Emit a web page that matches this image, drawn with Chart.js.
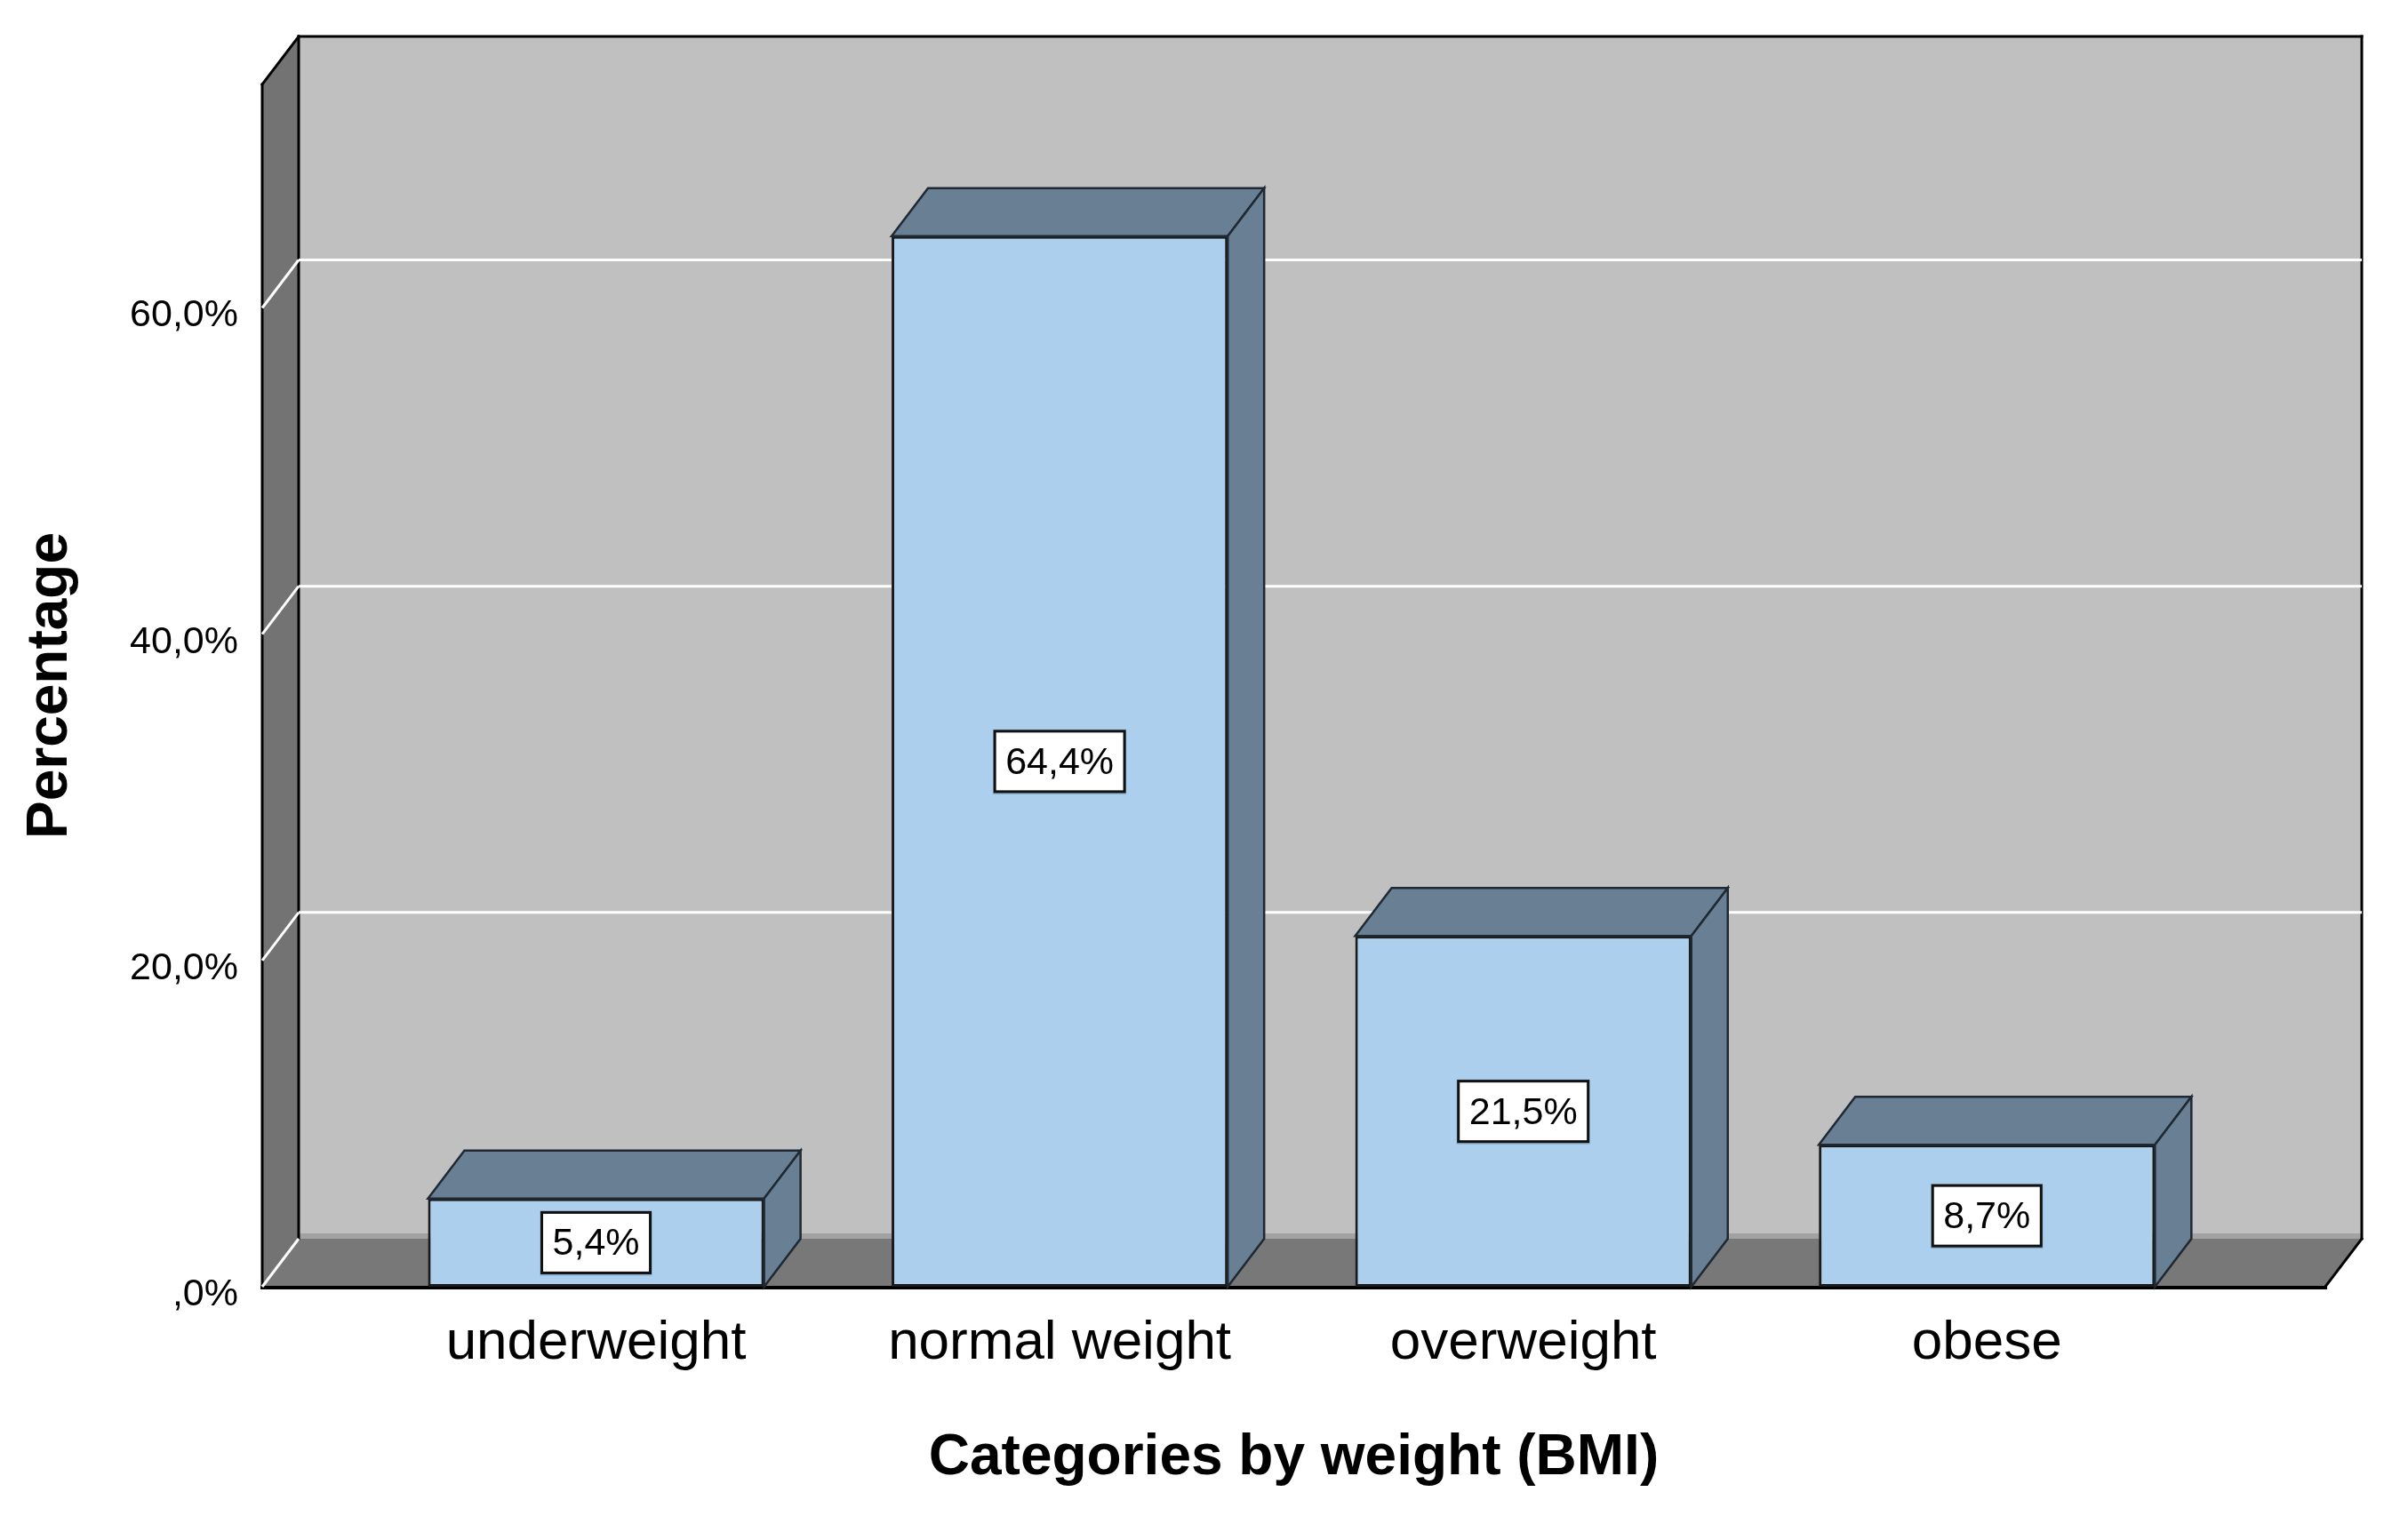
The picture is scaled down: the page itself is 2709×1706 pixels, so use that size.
<!DOCTYPE html>
<html><head><meta charset="utf-8">
<script src="https://cdn.jsdelivr.net/npm/chart.js@4.4.1/dist/chart.umd.min.js"></script>
<style>html,body{margin:0;padding:0;background:#fff;}canvas{display:block;}</style>
</head><body>
<canvas id="c" width="2709" height="1706"></canvas>
<script>
const categories = ['underweight', 'normal weight', 'overweight', 'obese'];
const percentages = [5.4, 64.4, 21.5, 8.7];
const yTickValues = [0, 20, 40, 60];
const yMax = 73.7;
const xTitle = 'Categories by weight (BMI)';
const yTitle = 'Percentage';

const DX = 41, DY = -54;
const FONT = '"Liberation Sans", Arial, sans-serif';

function fmtPct(v) {
  const s = Number(v).toFixed(1).replace('.', ',');
  return (s.startsWith('0,') ? s.slice(1) : s) + '%';
}
function poly(ctx, pts, fill, stroke, lw) {
  ctx.beginPath();
  pts.forEach((p, i) => i ? ctx.lineTo(p[0], p[1]) : ctx.moveTo(p[0], p[1]));
  ctx.closePath();
  if (fill) { ctx.fillStyle = fill; ctx.fill(); }
  if (stroke) { ctx.strokeStyle = stroke; ctx.lineWidth = lw || 2; ctx.stroke(); }
}
function seg(ctx, x1, y1, x2, y2) {
  ctx.beginPath(); ctx.moveTo(x1, y1); ctx.lineTo(x2, y2); ctx.stroke();
}

const box3d = {
  id: 'box3d',
  beforeDatasetsDraw(chart) {
    const {ctx, chartArea: a, scales: {y}} = chart;
    const L = a.left, R = a.right, T = a.top, B = a.bottom;
    ctx.save();
    ctx.fillStyle = '#c0c0c0';
    ctx.fillRect(L + DX, T + DY, R - L, B - T);
    ctx.fillStyle = '#a2a2a2';
    ctx.fillRect(L + DX, B + DY - 6, R - L, 6);
    poly(ctx, [[L, B], [L + DX, B + DY], [R + DX, B + DY], [R, B]], '#787878');
    poly(ctx, [[L, T], [L + DX, T + DY], [L + DX, B + DY], [L, B]], '#737373');
    ctx.strokeStyle = '#000';
    ctx.lineWidth = 3;
    ctx.lineCap = 'square';
    seg(ctx, L + DX, T + DY, R + DX, T + DY);
    seg(ctx, R + DX, T + DY, R + DX, B + DY);
    seg(ctx, L, T, L, B);
    seg(ctx, L + DX, T + DY, L + DX, B + DY);
    seg(ctx, L, T, L + DX, T + DY);
    seg(ctx, R, B, R + DX, B + DY);
    ctx.lineWidth = 4;
    seg(ctx, L, B + 1, R, B + 1);
    ctx.lineCap = 'butt';
    ctx.strokeStyle = '#ffffff';
    ctx.lineWidth = 3;
    yTickValues.forEach(v => {
      const py = y.getPixelForValue(v);
      if (v > 0) seg(ctx, L + DX, py + DY, R + DX, py + DY);
      seg(ctx, L, py, L + DX, py + DY);
    });
    ctx.restore();
  },
  afterDatasetsDraw(chart) {
    const {ctx} = chart;
    const meta = chart.getDatasetMeta(0);
    ctx.save();
    ctx.lineJoin = 'miter';
    meta.data.forEach((bar, i) => {
      const {x, y, base, width} = bar.getProps(['x', 'y', 'base', 'width'], true);
      const l = x - width / 2, r = x + width / 2;
      poly(ctx, [[l, y], [l + DX, y + DY], [r + DX, y + DY], [r, y]], '#687f94', '#1f2933', 2.5);
      poly(ctx, [[r, y], [r + DX, y + DY], [r + DX, base + DY], [r, base]], '#687f94', '#1f2933', 2.5);
      const txt = fmtPct(chart.data.datasets[0].data[i].y);
      ctx.font = '43px ' + FONT;
      const tw = ctx.measureText(txt).width;
      const bw = tw + 24, bh = 68;
      const cx = x, cy = (y + base) / 2;
      ctx.fillStyle = 'rgba(70,95,120,0.35)';
      ctx.fillRect(cx - bw / 2 - 2, cy - bh / 2 - 2, bw + 4, bh + 5);
      ctx.fillStyle = '#ffffff';
      ctx.fillRect(cx - bw / 2, cy - bh / 2, bw, bh);
      ctx.strokeStyle = '#111';
      ctx.lineWidth = 3;
      ctx.strokeRect(cx - bw / 2, cy - bh / 2, bw, bh);
      ctx.fillStyle = '#000';
      ctx.textAlign = 'center';
      ctx.textBaseline = 'middle';
      ctx.fillText(txt, cx, cy + 2);
    });
    ctx.restore();
  }
};

new Chart(document.getElementById('c'), {
  type: 'bar',
  data: {
    datasets: [{
      data: percentages.map((v, i) => ({x: i, y: v})),
      backgroundColor: '#abcfed',
      borderColor: '#1a1a1a',
      borderWidth: 3,
      borderSkipped: false,
      barPercentage: 0.725,
      categoryPercentage: 1
    }]
  },
  options: {
    responsive: false,
    devicePixelRatio: 1,
    animation: false,
    layout: {padding: {top: 95, right: 93, left: 0, bottom: 0}},
    plugins: {legend: {display: false}, tooltip: {enabled: false}},
    scales: {
      x: {
        type: 'linear',
        offset: false,
        min: -0.72,
        max: 3.73,
        grid: {display: false, drawTicks: false, offset: false},
        border: {display: false},
        afterBuildTicks: s => { s.ticks = categories.map((_, i) => ({value: i})); },
        ticks: {
          autoSkip: false, maxRotation: 0, padding: 27, color: '#000',
          font: {family: FONT, size: 62},
          callback: v => categories[v]
        },
        title: {
          display: true, text: xTitle, color: '#000',
          font: {family: FONT, size: 64, weight: 'bold'},
          padding: {top: 0, bottom: 26}
        },
        afterFit: s => { s.height = 258; }
      },
      y: {
        min: 0,
        max: yMax,
        grid: {display: false, drawTicks: false},
        border: {display: false},
        afterBuildTicks: s => { s.ticks = yTickValues.map(v => ({value: v})); },
        ticks: {
          padding: 27, labelOffset: 9, color: '#000',
          font: {family: FONT, size: 43},
          callback: v => fmtPct(v)
        },
        title: {
          display: true, text: yTitle, color: '#000',
          font: {family: FONT, size: 64, weight: 'bold'},
          padding: {top: 19, bottom: 0}
        },
        afterFit: s => { s.width = 295; }
      }
    }
  },
  plugins: [box3d]
});
</script>
</body></html>
